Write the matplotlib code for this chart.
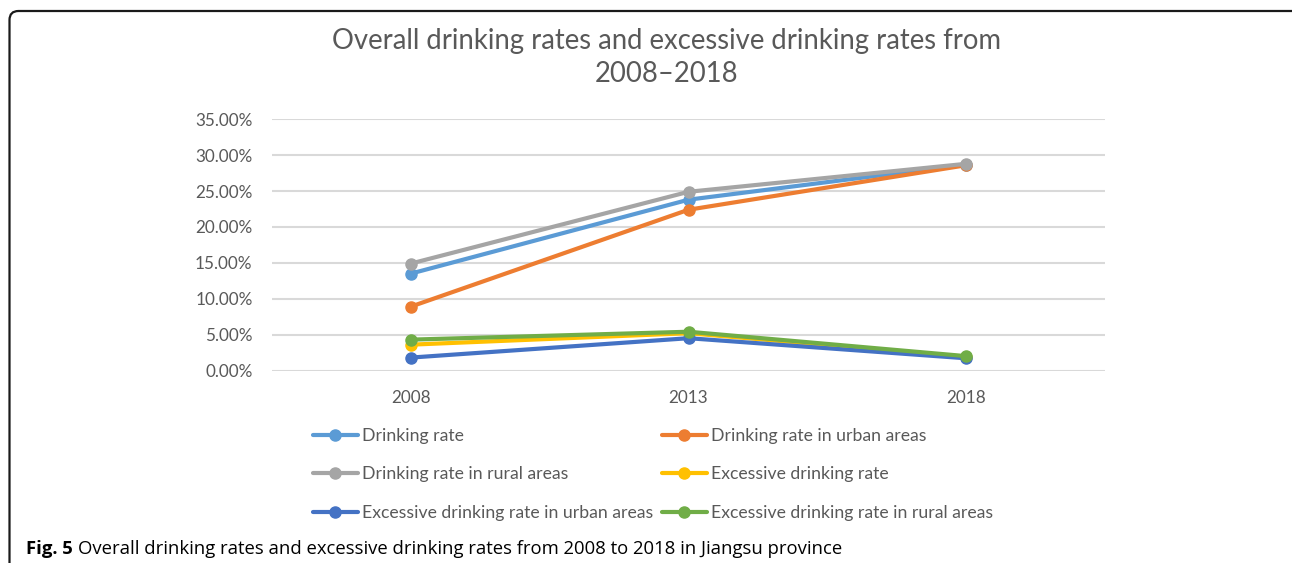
import matplotlib.pyplot as plt
from matplotlib.patches import FancyBboxPatch
from matplotlib.transforms import IdentityTransform
from matplotlib.ticker import PercentFormatter

years = ['2008', '2013', '2018']
drinking = [13.5, 23.8, 28.7]
drinking_urban = [8.9, 22.4, 28.6]
drinking_rural = [14.9, 24.9, 28.8]
excessive = [3.6, 5.2, 1.9]
excessive_urban = [1.8, 4.5, 1.7]
excessive_rural = [4.3, 5.4, 2.0]

series = [
    ('Drinking rate', drinking, '#5B9BD5'),
    ('Drinking rate in urban areas', drinking_urban, '#ED7D31'),
    ('Drinking rate in rural areas', drinking_rural, '#A5A5A5'),
    ('Excessive drinking rate', excessive, '#FFC000'),
    ('Excessive drinking rate in urban areas', excessive_urban, '#4472C4'),
    ('Excessive drinking rate in rural areas', excessive_rural, '#70AD47'),
]

plt.rcParams['font.family'] = ['Lato', 'DejaVu Sans']
GREY = '#595959'
W, H = 1292, 563

fig = plt.figure(figsize=(W / 100, H / 100), dpi=100)
ax = fig.add_axes([272 / W, (H - 370.5) / H, 833 / W, (370.5 - 119.3) / H])

handles = []
x = range(len(years))
for label, vals, color in series:
    h, = ax.plot(x, vals, color=color, lw=3, marker='o', ms=8,
                 solid_capstyle='round', label=label)
    handles.append(h)

ax.set_xlim(-0.5, 2.5)
ax.set_ylim(0, 35)
ax.set_yticks(range(0, 36, 5))
ax.yaxis.set_major_formatter(PercentFormatter(decimals=2))
ax.set_xticks(list(x))
ax.set_xticklabels(years)
ax.grid(axis='y', color='#D9D9D9', lw=1.5)
ax.set_axisbelow(True)
for s in ax.spines.values():
    s.set_visible(False)
ax.tick_params(length=0, labelsize=12.3, colors=GREY)
ax.tick_params(axis='y', pad=14)
ax.tick_params(axis='x', pad=14)

fig.text(667 / W, 1 - 41 / H, 'Overall drinking rates and excessive drinking rates from',
         ha='center', va='center', fontsize=19.8, color=GREY)
fig.text(667 / W, 1 - 74 / H, '2008\u20132018',
         ha='center', va='center', fontsize=19.8, color=GREY)

# legend in two hand-placed columns, rows go across like the original
leg_kw = dict(frameon=False, fontsize=12.7, labelcolor=GREY, handlelength=2.55,
              handletextpad=0.2, labelspacing=1.27, borderaxespad=0, borderpad=0)
fig.legend(handles[0::2], [s[0] for s in series[0::2]], loc='upper left',
           bbox_to_anchor=(313 / W, 1 - 428 / H), **leg_kw)
fig.legend(handles[1::2], [s[0] for s in series[1::2]], loc='upper left',
           bbox_to_anchor=(662 / W, 1 - 428 / H), **leg_kw)

# figure frame, only top and left edges visible
frame = FancyBboxPatch((9.5, -60), 1300, H - 11 + 60,
                       boxstyle='round,pad=0,rounding_size=9',
                       fill=False, ec='#1a1a1a', lw=1.6, transform=IdentityTransform())
fig.add_artist(frame)

t1 = fig.text(26 / W, 1 - 549 / H, 'Fig. 5', fontsize=13.3, fontweight='bold',
              family=['Open Sans', 'DejaVu Sans'], va='center')
fig.canvas.draw()
bb = t1.get_window_extent()
fig.text((bb.x1 + 5) / W, 1 - 549 / H,
         'Overall drinking rates and excessive drinking rates from 2008 to 2018 in Jiangsu province',
         fontsize=13.3, family=['Open Sans', 'DejaVu Sans'], va='center')

fig.savefig('out.png', dpi=100)
